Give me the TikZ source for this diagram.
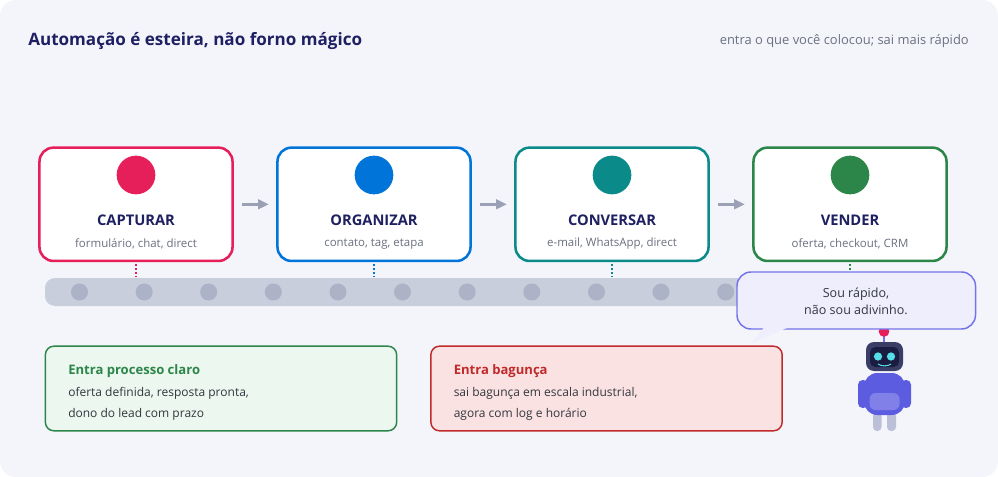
\documentclass[tikz,border=0pt]{standalone}
\usepackage{fontspec}
\setmainfont{Open Sans}
\usetikzlibrary{arrows.meta}
\definecolor{panel}{HTML}{F4F5FB}
\definecolor{navy}{HTML}{1E2062}
\definecolor{greytxt}{HTML}{6B7080}
\definecolor{darktxt}{HTML}{33363F}
\definecolor{arrowc}{HTML}{9AA1B5}
\definecolor{beltc}{HTML}{C8CEDB}
\definecolor{dotc}{HTML}{ADB3C6}
\definecolor{crimson}{HTML}{E61E5A}
\definecolor{azure}{HTML}{0074D9}
\definecolor{teal2}{HTML}{0B8A8A}
\definecolor{leaf}{HTML}{2D8649}
\definecolor{bubfill}{HTML}{EEEEFC}
\definecolor{bubline}{HTML}{7473E8}
\definecolor{okfill}{HTML}{ECF7EF}
\definecolor{badfill}{HTML}{FAE2E2}
\definecolor{badline}{HTML}{C02A2A}
\definecolor{robo}{HTML}{5C5CE0}
\definecolor{robolight}{HTML}{8080E8}
\definecolor{robohead}{HTML}{3A3D66}
\definecolor{robodark}{HTML}{1A1C40}
\definecolor{roboeye}{HTML}{55DDE8}
\definecolor{roboleg}{HTML}{BCBFD8}
\tikzset{
  card/.style={draw=#1,line width=1.9pt,fill=white,rounded corners=10.5pt,minimum width=144.8pt,minimum height=85pt,inner sep=0pt},
  badge/.style={circle,fill=#1,minimum size=29pt,inner sep=0pt},
  cardtitle/.style={font=\fontsize{11}{13}\selectfont\bfseries,text=navy},
  cardsub/.style={font=\fontsize{8.6}{10}\selectfont,text=greytxt},
  flow/.style={draw=arrowc,line width=1.9pt,-{Triangle[length=8pt,width=7pt]},shorten >=5.5pt,shorten <=6.5pt},
  drop/.style={draw=#1,line width=1.4pt,dash pattern=on 1.9pt off 1.2pt,shorten <=1pt},
  roller/.style={circle,fill=dotc,minimum size=12.8pt,inner sep=0pt},
  infobox/.style 2 args={draw=#1,line width=1.1pt,fill=#2,rounded corners=6.5pt,minimum width=263.5pt,minimum height=63.5pt,inner sep=0pt},
  boxhead/.style={anchor=west,font=\fontsize{9.8}{12}\selectfont\bfseries,text=#1},
  boxline/.style={anchor=west,font=\fontsize{9}{11}\selectfont,text=darktxt}
}
\begin{document}
\begin{tikzpicture}[x=0.75pt,y=-0.75pt]
\useasboundingbox (0,0) rectangle (998,477);
% background panel
\fill[white] (0,0) rectangle (998,477);
\fill[panel,rounded corners=12pt] (0,0) rectangle (998,477);
% heading
\node[anchor=west,inner sep=0pt,font=\fontsize{12.8}{15}\selectfont\bfseries,text=navy] (title) at (28,41) {Automação é esteira, não forno mágico};
\node[anchor=east,inner sep=0pt,font=\fontsize{9.7}{11}\selectfont,text=greytxt] (tagline) at (969,41) {entra o que você colocou; sai mais rápido};
% conveyor belt
\fill[beltc,rounded corners=7.5pt] (45,278) rectangle (860,306);
\foreach \i/\x in {1/79.5,2/144.2,3/208.7,4/273.3,5/338,6/402.5,7/467.2,8/531.8,9/596.5,10/661,11/725.7}
  \node[roller] (roller\i) at (\x,292) {};
% process cards
\node[card=crimson] (capturar) at (136,204.3) {};
\node[card=azure] (organizar) at (374,204.3) {};
\node[card=teal2] (conversar) at (612,204.3) {};
\node[card=leaf] (vender) at (850,204.3) {};
\node[badge=crimson] (b1) at (136,175) {};
\node[badge=azure] (b2) at (374,175) {};
\node[badge=teal2] (b3) at (612,175) {};
\node[badge=leaf] (b4) at (850,175) {};
\node[cardtitle] (t1) at (136,220) {CAPTURAR};
\node[cardtitle] (t2) at (374,220) {ORGANIZAR};
\node[cardtitle] (t3) at (612,220) {CONVERSAR};
\node[cardtitle] (t4) at (850,220) {VENDER};
\node[cardsub] (s1) at (136,244) {formulário, chat, direct};
\node[cardsub] (s2) at (374,244) {contato, tag, etapa};
\node[cardsub] (s3) at (612,244) {e-mail, WhatsApp, direct};
\node[cardsub] (s4) at (850,244) {oferta, checkout, CRM};
% flow between cards
\draw[flow] (capturar.east) -- (organizar.west);
\draw[flow] (organizar.east) -- (conversar.west);
\draw[flow] (conversar.east) -- (vender.west);
% drops onto the belt
\coordinate (d1) at (136,276);
\coordinate (d2) at (374,276);
\coordinate (d3) at (612,276);
\coordinate (d4) at (850,276);
\draw[drop=crimson] (capturar.south) -- (d1);
\draw[drop=azure] (organizar.south) -- (d2);
\draw[drop=teal2] (conversar.south) -- (d3);
\draw[drop=leaf] (vender.south) -- (d4);
% lower notes
\node[infobox={leaf}{okfill}] (okbox) at (221,388.5) {};
\node[infobox={badline}{badfill}] (badbox) at (606.5,388.5) {};
\node[boxhead=leaf,inner sep=0pt] (okh) at (68,371) {Entra processo claro};
\node[boxline,inner sep=0pt] (ok1) at (68,393.5) {oferta definida, resposta pronta,};
\node[boxline,inner sep=0pt] (ok2) at (68,414) {dono do lead com prazo};
\node[boxhead=badline,inner sep=0pt] (badh) at (453.5,371) {Entra bagunça};
\node[boxline,inner sep=0pt] (bad1) at (453.5,393.5) {sai bagunça em escala industrial,};
\node[boxline,inner sep=0pt] (bad2) at (453.5,414) {agora com log e horário};
% robot
\fill[roboleg,rounded corners=3pt] (873,412) rectangle (881.5,431);
\fill[roboleg,rounded corners=3pt] (887,412) rectangle (896,431);
\fill[robo,rounded corners=3.5pt] (858,380) rectangle (868,408);
\fill[robo,rounded corners=3.5pt] (901,380) rectangle (911,408);
\fill[robo,rounded corners=10pt] (864,373) rectangle (905,415);
\fill[robolight,rounded corners=4.5pt] (869.5,393) rectangle (899.5,410);
\draw[bubline,line width=0.9pt] (884,333) -- (884,343);
\fill[crimson] (884,331.5) circle[radius=4pt];
\fill[robohead,rounded corners=6pt] (866,342) rectangle (903,371);
\fill[robodark,rounded corners=4pt] (870,347) rectangle (899,367);
\fill[roboeye] (878,356.5) circle[radius=3.1pt];
\fill[roboeye] (891,356.5) circle[radius=3.1pt];
\draw[roboeye,line width=0.8pt] (878,364) .. controls (881,366.5) and (888,366.5) .. (891,364);
% speech bubble
\draw[bubline,line width=1.1pt,fill=bubfill,rounded corners=10.5pt] (737,272) rectangle (975.5,329);
\fill[bubfill] (764,327.5) -- (752,343) -- (788,327.5) -- cycle;
\node[align=center,inner sep=0pt,font=\fontsize{9.4}{12.7}\selectfont,text=darktxt] (say) at (856,301.5) {Sou rápido,\\não sou adivinho.};
\end{tikzpicture}
\end{document}
